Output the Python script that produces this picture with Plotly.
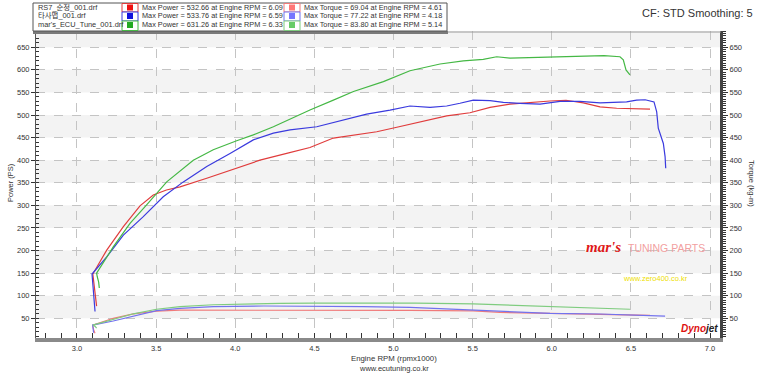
import plotly.graph_objects as go

# ---------------- data ----------------
rpm_tick_vals = [3.0, 3.5, 4.0, 4.5, 5.0, 5.5, 6.0, 6.5, 7.0]
rpm_tick_text = ["3.0", "3.5", "4.0", "4.5", "5.0", "5.5", "6.0", "6.5", "7.0"]

files = ["RS7_순정_001.drf", "타사맵_001.drf", "mar's_ECU_Tune_001.drf"]
max_power_txt = ["Max Power = 532.66 at Engine RPM = 6.09",
                 "Max Power = 533.76 at Engine RPM = 6.59",
                 "Max Power = 631.26 at Engine RPM = 6.33"]
max_torque_txt = ["Max Torque = 69.04 at Engine RPM = 4.61",
                  "Max Torque = 77.22 at Engine RPM = 4.18",
                  "Max Torque = 83.80 at Engine RPM = 5.14"]

red_power_rpm = [3.124, 3.10, 3.188, 3.293, 3.398, 3.482, 3.565, 3.651, 3.820, 3.988, 4.156,
                 4.325, 4.409, 4.472, 4.620, 4.767, 4.894, 5.021, 5.147, 5.336, 5.483, 5.610,
                 5.736, 5.799, 5.989, 6.09, 6.199, 6.305, 6.410, 6.621]
red_power = [77, 148, 201, 253, 299, 323, 334, 341, 360, 380, 400,
             415, 423, 428, 449, 456, 463, 473, 483, 498, 505, 517,
             524, 526, 531, 532.7, 527, 518, 515, 513]

blue_power_rpm = [3.114, 3.105, 3.095, 3.188, 3.293, 3.419, 3.545, 3.672, 3.820, 3.967, 4.114,
                  4.241, 4.346, 4.515, 4.683, 4.830, 4.978, 5.104, 5.231, 5.336, 5.420, 5.504,
                  5.610, 5.694, 5.799, 5.926, 6.052, 6.178, 6.305, 6.473, 6.536, 6.59, 6.646,
                  6.663, 6.673, 6.705, 6.716, 6.720]
blue_power = [65, 110, 148, 186, 234, 275, 319, 352, 386, 415, 445,
              460, 467, 474, 489, 502, 511, 520, 517, 520, 526, 533,
              532, 528, 526, 524, 530, 530, 527, 529, 533, 533.8, 529,
              507, 471, 437, 408, 382]

green_power_rpm = [3.141, 3.137, 3.128, 3.124, 3.229, 3.335, 3.440, 3.567, 3.735, 3.861, 4.009,
                   4.114, 4.241, 4.346, 4.472, 4.620, 4.747, 4.936, 5.104, 5.294, 5.441, 5.567,
                   5.652, 5.736, 5.883, 6.094, 6.33, 6.431, 6.452, 6.469, 6.494]
green_power = [117, 130, 142, 150, 208, 260, 301, 352, 400, 423, 443,
               456, 474, 491, 511, 533, 552, 574, 598, 613, 620, 623,
               629, 626, 627, 629, 631.3, 629, 622, 600, 589]

red_torque_rpm = [3.114, 3.105, 3.099, 3.229, 3.356, 3.503, 3.651, 3.861, 4.283, 4.61, 4.704,
                  5.104, 5.504, 5.673, 5.989, 6.305, 6.494, 6.621]
red_torque = [17, 25, 35, 50, 60, 66, 68, 68, 68, 69, 67.5,
              67.5, 66.5, 63, 61, 59.5, 57, 56.5]

blue_torque_rpm = [3.105, 3.100, 3.099, 3.229, 3.356, 3.503, 3.651, 3.861, 4.18, 4.493, 4.809,
                   5.104, 5.30, 5.504, 5.75, 5.989, 6.305, 6.621, 6.716]
blue_torque = [18, 27, 35, 44, 55, 67, 72, 76, 77.2, 77, 76,
               74, 71, 68, 64, 61, 59.5, 57, 55]

green_torque_rpm = [3.124, 3.115, 3.100, 3.229, 3.356, 3.503, 3.651, 3.861, 4.072, 4.283, 4.493,
                    4.809, 5.14, 5.504, 5.989, 6.494]
green_torque = [28, 32, 35, 48, 60, 70, 76, 80, 82, 83, 83.5,
                83.7, 83.8, 82, 76, 70]

power_colors = ["#e03c3c", "#3a3ade", "#45b845"]
torque_colors = ["#f07a7a", "#7272ee", "#7fcc7f"]
box_fill_power = ["#ee1111", "#1111dd", "#22aa22"]
box_fill_torque = ["#ff7777", "#7777ff", "#66cc66"]

# ---------------- geometry helpers ----------------
W, H = 764, 373
L, R, T, B = 36, 720, 31, 338


def PX(px):
    return (px - L) / (R - L)


def PY(py):
    return (B - py) / (B - T)


fig = go.Figure()

power_sets = [(red_power_rpm, red_power), (blue_power_rpm, blue_power), (green_power_rpm, green_power)]
torque_sets = [(red_torque_rpm, red_torque), (blue_torque_rpm, blue_torque), (green_torque_rpm, green_torque)]

for (xs, ys), c in zip(torque_sets, torque_colors):
    fig.add_trace(go.Scatter(x=xs, y=ys, mode="lines", line=dict(color=c, width=1.2),
                             yaxis="y2", showlegend=False, hoverinfo="skip"))
for (xs, ys), c in zip(power_sets, power_colors):
    fig.add_trace(go.Scatter(x=xs, y=ys, mode="lines", line=dict(color=c, width=1.2),
                             showlegend=False, hoverinfo="skip"))

YMIN, YMAX = 6.4, 686
shapes = []
# alternating bands
for lo in [50, 150, 250, 350, 450, 550, 650]:
    shapes.append(dict(type="rect", xref="paper", x0=0, x1=1, yref="y", y0=lo, y1=min(lo + 50, YMAX),
                       fillcolor="#f3f3f3", line=dict(width=0), layer="below"))

# top border
shapes.append(dict(type="line", xref="paper", yref="paper", x0=PX(448), x1=PX(721), y0=PY(32), y1=PY(32),
                   line=dict(color="#9a9a9a", width=1)))
shapes.append(dict(type="line", xref="paper", yref="paper", x0=PX(33), x1=PX(448), y0=PY(32.5), y1=PY(32.5),
                   line=dict(color="#7a7a7a", width=3)))

# legend table
shapes.append(dict(type="rect", xref="paper", yref="paper", x0=PX(33), x1=PX(447), y0=PY(31), y1=PY(3),
                   fillcolor="white", line=dict(color="#555", width=1)))
row_tops = [3.5, 12, 21]
row_bots = [12, 21, 30.5]
row_centers = [7.5, 16, 25]
for i in range(3):
    for (bx0, bx1, border, fill) in [(122, 138, power_colors[i], box_fill_power[i]),
                                     (284, 300, torque_colors[i], box_fill_torque[i])]:
        shapes.append(dict(type="rect", xref="paper", yref="paper", x0=PX(bx0), x1=PX(bx1),
                           y0=PY(row_bots[i]), y1=PY(row_tops[i]),
                           fillcolor="white", line=dict(color=border, width=1)))
        cx = (bx0 + bx1) / 2
        cy = row_centers[i]
        shapes.append(dict(type="rect", xref="paper", yref="paper", x0=PX(cx - 3), x1=PX(cx + 3),
                           y0=PY(cy + 3), y1=PY(cy - 3), fillcolor=fill, line=dict(width=0)))

annotations = []
for i in range(3):
    annotations.append(dict(xref="paper", yref="paper", x=PX(36), y=PY(row_centers[i]), text=files[i],
                            showarrow=False, xanchor="left", yanchor="middle",
                            font=dict(family="Liberation Sans, Noto Sans CJK KR", size=7.4, color="#333")))
    annotations.append(dict(xref="paper", yref="paper", x=PX(140), y=PY(row_centers[i]), text=max_power_txt[i],
                            showarrow=False, xanchor="left", yanchor="middle",
                            font=dict(family="Liberation Sans", size=7.3, color="#333")))
    annotations.append(dict(xref="paper", yref="paper", x=PX(302), y=PY(row_centers[i]), text=max_torque_txt[i],
                            showarrow=False, xanchor="left", yanchor="middle",
                            font=dict(family="Liberation Sans", size=7.3, color="#333")))

annotations += [
    dict(xref="paper", yref="paper", x=PX(697), y=PY(13), text="CF: STD Smoothing: 5", showarrow=False,
         xanchor="center", yanchor="middle", font=dict(family="Liberation Sans", size=11, color="#333")),
    dict(xref="paper", yref="paper", x=PX(10), y=PY(183), text="Power (PS)", showarrow=False, textangle=-90,
         xanchor="center", yanchor="middle", font=dict(family="Liberation Sans", size=7.5, color="#333")),
    dict(xref="paper", yref="paper", x=PX(752), y=PY(183), text="Torque (kg-m)", showarrow=False, textangle=90,
         xanchor="center", yanchor="middle", font=dict(family="Liberation Sans", size=7.5, color="#333")),
    dict(xref="paper", yref="paper", x=PX(394), y=PY(358), text="Engine RPM (rpmx1000)", showarrow=False,
         xanchor="center", yanchor="middle", font=dict(family="Liberation Sans", size=7.8, color="#333")),
    dict(xref="paper", yref="paper", x=PX(394), y=PY(368), text="www.ecutuning.co.kr", showarrow=False,
         xanchor="center", yanchor="middle", font=dict(family="Liberation Sans", size=7.5, color="#333")),
    dict(xref="paper", yref="paper", x=PX(603), y=PY(247), text="<b><i>mar's</i></b>", showarrow=False,
         xanchor="center", yanchor="middle", font=dict(family="Liberation Serif", size=15, color="#e01818")),
    dict(xref="paper", yref="paper", x=PX(666), y=PY(248), text="TUNING PARTS", showarrow=False,
         xanchor="center", yanchor="middle", font=dict(family="Liberation Sans", size=10.5, color="#f2a0a0")),
    dict(xref="paper", yref="paper", x=PX(655), y=PY(278), text="www.zero400.co.kr", showarrow=False,
         xanchor="center", yanchor="middle", font=dict(family="Liberation Sans", size=7.5, color="#eee000")),
    dict(xref="paper", yref="paper", x=PX(699), y=PY(328),
         text="<b><i><span style='color:#dd1111'>Dyno</span><span style='color:#222'>jet</span></i></b>",
         showarrow=False, xanchor="center", yanchor="middle",
         font=dict(family="Liberation Sans", size=10, color="#dd1111")),
]

tick_font = dict(family="Liberation Sans", size=7.5, color="#333")

fig.update_layout(
    template="none",
    width=W, height=H,
    margin=dict(l=L, r=W - R, t=T, b=H - B, pad=0, autoexpand=False),
    paper_bgcolor="white", plot_bgcolor="white",
    showlegend=False,
    shapes=shapes,
    annotations=annotations,
    xaxis=dict(range=[2.741, 7.063], tickvals=rpm_tick_vals, ticktext=rpm_tick_text, automargin=False,
               showgrid=True, gridcolor="#c4c4c4", griddash="dash", gridwidth=1,
               ticks="", ticklabelstandoff=0,
               showline=True, linecolor="#8a8a8a", linewidth=4,
               minor=dict(ticks="inside", dtick=0.1, tick0=3.0, ticklen=5, tickcolor="#333", showgrid=False),
               tickfont=tick_font, zeroline=False, fixedrange=True),
    yaxis=dict(range=[YMIN, YMAX], dtick=50, tick0=0, automargin=False,
               showgrid=True, gridcolor="#c4c4c4", griddash="dash", gridwidth=1,
               ticks="outside", ticklen=4, tickcolor="#333",
               showline=True, linecolor="#555", linewidth=1,
               minor=dict(ticks="inside", dtick=10, tick0=0, ticklen=3, tickcolor="#333", showgrid=False),
               tickfont=tick_font, zeroline=False, fixedrange=True),
    yaxis2=dict(range=[YMIN, YMAX], dtick=50, tick0=0, overlaying="y", side="right", automargin=False,
                showgrid=False, ticks="outside", ticklen=5, tickcolor="#333",
                showline=True, linecolor="#444", linewidth=3,
                minor=dict(ticks="outside", dtick=5, tick0=0, ticklen=3, tickcolor="#333", showgrid=False),
                tickfont=tick_font, zeroline=False, fixedrange=True),
)

fig.write_html("out.html", config={"displayModeBar": False},
               post_script="document.body.style.margin='0px';document.body.style.padding='0px';")
